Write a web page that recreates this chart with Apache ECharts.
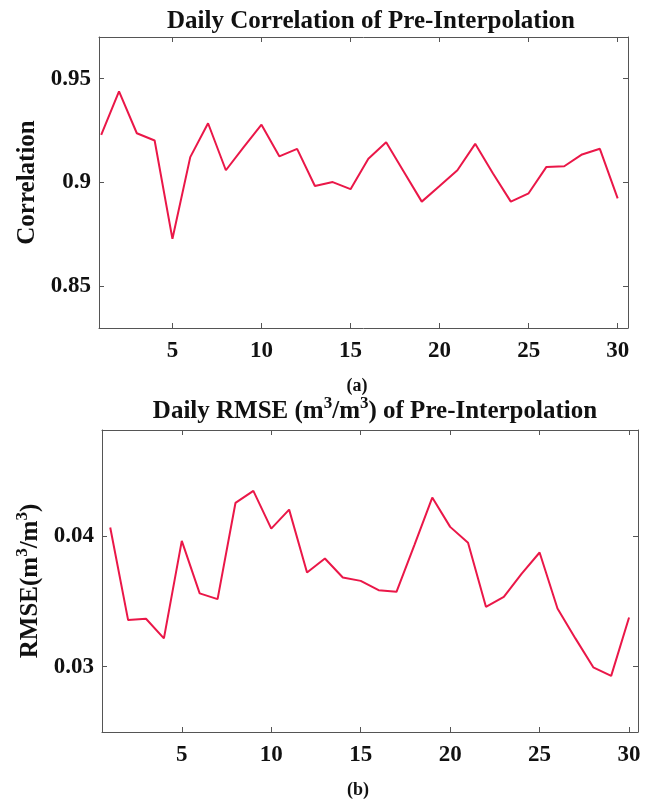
<!DOCTYPE html>
<html>
<head>
<meta charset="utf-8">
<script src="https://cdn.jsdelivr.net/npm/echarts@6/dist/echarts.min.js"></script>
<style>
  html, body { margin: 0; padding: 0; background: #fff; }
  #chart { width: 654px; height: 800px; }
</style>
</head>
<body>
<div id="chart"></div>
<script>
// days 1..30
var days = [1, 2, 3, 4, 5, 6, 7, 8, 9, 10, 11, 12, 13, 14, 15,
            16, 17, 18, 19, 20, 21, 22, 23, 24, 25, 26, 27, 28, 29, 30];
var corrValues = [0.9229, 0.9438, 0.9237, 0.9202, 0.8729, 0.9122, 0.9285, 0.9059, 0.9170, 0.9278,
                  0.9126, 0.9162, 0.8983, 0.9002, 0.8968, 0.9114, 0.9194, 0.9051, 0.8908, 0.8983,
                  0.9059, 0.9186, 0.9043, 0.8908, 0.8948, 0.9075, 0.9078, 0.9135, 0.9162, 0.8924];
var rmseValues = [0.04064, 0.03356, 0.03366, 0.03216, 0.03962, 0.03560, 0.03516, 0.04252, 0.04344, 0.04056,
                  0.04201, 0.03720, 0.03827, 0.03682, 0.03656, 0.03585, 0.03572, 0.03930, 0.04293, 0.04069,
                  0.03947, 0.03458, 0.03534, 0.03712, 0.03873, 0.03445, 0.03216, 0.02995, 0.02929, 0.03376];
var xTicks = [5, 10, 15, 20, 25, 30];
var corrTicks = [0.85, 0.9, 0.95];
var rmseTicks = [0.03, 0.04];

var font = "Liberation Serif";
var lineColor = "#ea1748";
var frameColor = "#555";

function pairs(xs, ys) {
  return xs.map(function (x, i) { return [x, ys[i]]; });
}

// boxed axes (MATLAB style: ticks inside on all four sides)
function xAxes(gridIndex, min, max) {
  var base = {
    type: "value", gridIndex: gridIndex, min: min, max: max,
    splitLine: { show: false },
    axisLine: { show: true, lineStyle: { color: frameColor, width: 1 } },
    axisTick: { show: true, inside: true, length: 5, customValues: xTicks, lineStyle: { color: frameColor } },
  };
  return [
    Object.assign({}, base, {
      position: "bottom",
      axisLabel: { customValues: xTicks, margin: 12, color: "#111", fontFamily: font, fontWeight: "bold", fontSize: 23 },
    }),
    Object.assign({}, base, { position: "top", axisLabel: { show: false } }),
  ];
}

function yAxes(gridIndex, min, max, ticks, name, nameRich) {
  var base = {
    type: "value", gridIndex: gridIndex, min: min, max: max,
    splitLine: { show: false },
    axisLine: { show: true, lineStyle: { color: frameColor, width: 1 } },
    axisTick: { show: true, inside: true, length: 5, customValues: ticks, lineStyle: { color: frameColor } },
  };
  return [
    Object.assign({}, base, {
      position: "left",
      name: name,
      nameLocation: "middle",
      nameRotate: 90,
      nameGap: 51,
      nameTextStyle: { color: "#111", fontFamily: font, fontWeight: "bold", fontSize: 25, rich: nameRich },
      axisLabel: { customValues: ticks, margin: 8, color: "#111", fontFamily: font, fontWeight: "bold", fontSize: 23 },
    }),
    Object.assign({}, base, { position: "right", axisLabel: { show: false } }),
  ];
}

var supRich = {
  t: { fontFamily: font, fontWeight: "bold", fontSize: 25, color: "#111" },
  s: { fontFamily: font, fontWeight: "bold", fontSize: 17, color: "#111", padding: [0, 0, 16, 0] },
};

var myChart = echarts.init(document.getElementById("chart"));
var xa = xAxes(0, 0.876, 30.58).concat(xAxes(1, 0.54, 30.5));
var ya = yAxes(0, 0.83, 0.97, corrTicks, "Correlation", null)
  .concat(yAxes(1, 0.025, 0.0481, rmseTicks, "{t|RMSE(m}{s|3}{t|/m}{s|3}{t|)}", supRich));

var option = {
  animation: false,
  backgroundColor: "#fff",
  title: [
    {
      text: "Daily Correlation of Pre-Interpolation",
      left: 366, top: 4, textAlign: "center",
      textStyle: { fontFamily: font, fontWeight: "bold", fontSize: 25, color: "#111" },
    },
    {
      text: "(a)",
      left: 352, top: 372, textAlign: "center",
      textStyle: { fontFamily: font, fontWeight: "bold", fontSize: 18, color: "#111" },
    },
    {
      text: "{t|Daily RMSE (m}{s|3}{t|/m}{s|3}{t|) of Pre-Interpolation}",
      left: 370, top: 390, textAlign: "center",
      textStyle: { rich: supRich },
    },
    {
      text: "(b)",
      left: 353, top: 776, textAlign: "center",
      textStyle: { fontFamily: font, fontWeight: "bold", fontSize: 18, color: "#111" },
    },
  ],
  grid: [
    { left: 99, top: 37, width: 529, height: 291, containLabel: false },
    { left: 102, top: 430, width: 536, height: 302, containLabel: false },
  ],
  xAxis: xa,
  yAxis: ya,
  series: [
    {
      type: "line", xAxisIndex: 0, yAxisIndex: 0,
      data: pairs(days, corrValues),
      symbol: "none",
      lineStyle: { color: lineColor, width: 2 },
    },
    {
      type: "line", xAxisIndex: 2, yAxisIndex: 2,
      data: pairs(days, rmseValues),
      symbol: "none",
      lineStyle: { color: lineColor, width: 2 },
    },
  ],
};
myChart.setOption(option);
</script>
</body>
</html>
